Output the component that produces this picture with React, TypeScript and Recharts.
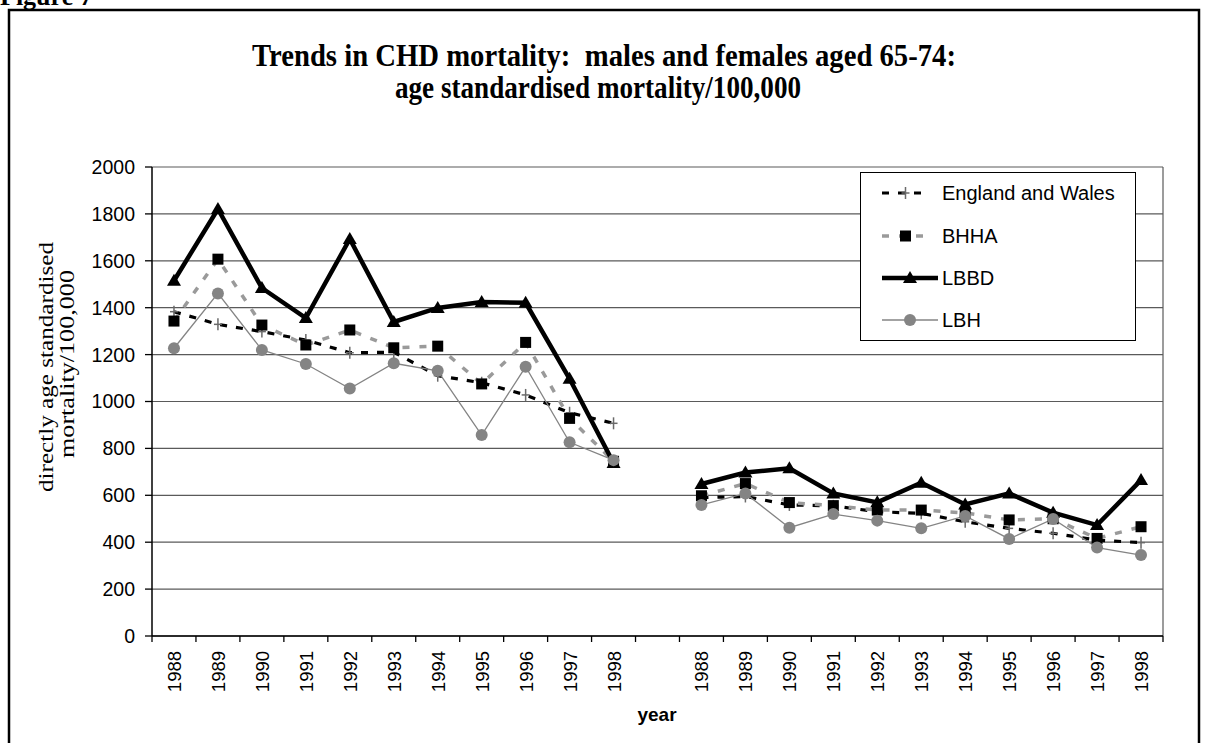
import React from 'react';
import { LineChart, Line, XAxis, YAxis, CartesianGrid, Legend } from 'recharts';

// ---- data ----
const years = ['1988', '1989', '1990', '1991', '1992', '1993', '1994', '1995', '1996', '1997', '1998'];
const yTicks = [0, 200, 400, 600, 800, 1000, 1200, 1400, 1600, 1800, 2000];

const ewPanel1 = [1383, 1329, 1298, 1262, 1208, 1210, 1110, 1080, 1028, 952, 907];
const ewPanel2 = [590, 595, 559, 555, 530, 523, 487, 459, 438, 409, 398];
const bhhaPanel1 = [1343, 1607, 1326, 1241, 1305, 1229, 1236, 1075, 1252, 928, 745];
const bhhaPanel2 = [598, 650, 569, 556, 537, 537, 525, 495, 500, 416, 466];
const lbbdPanel1 = [1515, 1821, 1484, 1356, 1693, 1339, 1399, 1424, 1421, 1097, 738];
const lbbdPanel2 = [648, 697, 715, 608, 570, 654, 561, 608, 526, 473, 665];
const lbhPanel1 = [1227, 1461, 1220, 1160, 1055, 1163, 1131, 857, 1148, 826, 750];
const lbhPanel2 = [559, 608, 462, 520, 492, 459, 512, 414, 499, 377, 345];

const titleLine1 = 'Trends in CHD mortality:  males and females aged 65-74:';
const titleLine2 = 'age standardised mortality/100,000';
const yLabel1 = 'directly age standardised';
const yLabel2 = 'mortality/100,000';
const xLabel = 'year';

const rows: any[] = [
  ...years.map((y, i) => ({ label: y, ew: ewPanel1[i], bhha: bhhaPanel1[i], lbbd: lbbdPanel1[i], lbh: lbhPanel1[i] })),
  { label: '', ew: null, bhha: null, lbbd: null, lbh: null },
  ...years.map((y, i) => ({ label: y, ew: ewPanel2[i], bhha: bhhaPanel2[i], lbbd: lbbdPanel2[i], lbh: lbhPanel2[i] })),
];

// ---- layout ----
const W = 1205;
const H = 743;
const PLOT_L = 152;
const PLOT_T = 167;
const PLOT_R = 1163;
const PLOT_B = 636;
const Y_AXIS_W = 60;
const X_AXIS_H = 60;
const BW = (PLOT_R - PLOT_L) / rows.length;

const SANS = '"Liberation Sans", Arial, sans-serif';
const SERIF = '"Liberation Serif", "Times New Roman", serif';

const BHHA_GRAY = '#9a9a9a';
const LBH_GRAY = '#848484';

// ---- markers ----
const PlusMark = ({ cx, cy }: any) => {
  if (cx == null || cy == null) return <g />;
  return (
    <g>
      <line x1={cx} x2={cx} y1={cy - 6} y2={cy + 6} stroke="#6a6a6a" strokeWidth={1.5} />
      <line x1={cx - 4} x2={cx + 4} y1={cy} y2={cy} stroke="#6a6a6a" strokeWidth={1.5} />
    </g>
  );
};
const SquareMark = ({ cx, cy }: any) => {
  if (cx == null || cy == null) return <g />;
  return <rect x={cx - 5.5} y={cy - 5.5} width={11} height={11} fill="#000" />;
};
const TriMark = ({ cx, cy }: any) => {
  if (cx == null || cy == null) return <g />;
  return <polygon points={`${cx},${cy - 7} ${cx - 7},${cy + 5} ${cx + 7},${cy + 5}`} fill="#000" />;
};
const CircleMark = ({ cx, cy }: any) => {
  if (cx == null || cy == null) return <g />;
  return <circle cx={cx} cy={cy} r={6} fill={LBH_GRAY} />;
};

const series = [
  { key: 'ew', name: 'England and Wales', stroke: '#000', width: 3.2, dash: '7 9', Mark: PlusMark },
  { key: 'bhha', name: 'BHHA', stroke: BHHA_GRAY, width: 3.5, dash: '7 10', Mark: SquareMark },
  { key: 'lbbd', name: 'LBBD', stroke: '#000', width: 4.5, dash: undefined, Mark: TriMark },
  { key: 'lbh', name: 'LBH', stroke: LBH_GRAY, width: 1.3, dash: undefined, Mark: CircleMark },
];

// ---- x tick ----
const XTick = (props: any) => {
  const { x, y, payload, index } = props;
  return (
    <g>
      <line x1={x - BW / 2} x2={x - BW / 2} y1={y} y2={y + 6} stroke="#000" strokeWidth={1.3} />
      {index === rows.length - 1 && (
        <line x1={x + BW / 2} x2={x + BW / 2} y1={y} y2={y + 6} stroke="#000" strokeWidth={1.3} />
      )}
      {payload.value !== '' && (
        <text
          transform={`translate(${x + 7},${y + 15}) rotate(-90)`}
          textAnchor="end"
          fontFamily={SANS}
          fontSize={18.5}
          fill="#000"
        >
          {payload.value}
        </text>
      )}
    </g>
  );
};

// ---- legend ----
const LegendBox = () => {
  const rowsY = [20, 63, 105, 147];
  return (
    <div
      style={{
        position: 'absolute',
        left: 0,
        top: 0,
        width: 276,
        height: 169,
        border: '1.5px solid #000',
        boxSizing: 'border-box',
        background: '#fff',
      }}
    >
      <svg width={273} height={166} style={{ position: 'absolute', left: 0, top: 0 }}>
        {series.map((s, i) => {
          const y = rowsY[i];
          const x1 = 21;
          const x2 = s.dash ? 68 : 77;
          const M = s.Mark;
          return (
            <g key={s.key}>
              <line x1={x1} x2={x2} y1={y} y2={y} stroke={s.stroke} strokeWidth={s.width} strokeDasharray={s.dash} />
              <M cx={(x1 + x2) / 2} cy={y} />
              <text x={81} y={y} dy="0.35em" fontFamily={SANS} fontSize={20} fill="#000">
                {s.name}
              </text>
            </g>
          );
        })}
      </svg>
    </div>
  );
};

export default function App() {
  return (
    <div style={{ position: 'absolute', left: 0, top: 0, width: W, height: H, overflow: 'hidden', background: '#fff' }}>
      <svg width={W} height={H} style={{ position: 'absolute', left: 0, top: 0 }}>
        <text x={0} y={5} fontFamily={SERIF} fontWeight="bold" fontSize={26} fill="#000">
          Figure 7
        </text>
        <rect x={9} y={10} width={1190} height={800} fill="none" stroke="#000" strokeWidth={2.5} />
        <text
          x={604}
          y={66}
          textAnchor="middle"
          fontFamily={SERIF}
          fontWeight="bold"
          fontSize={31}
          textLength={704}
          lengthAdjust="spacingAndGlyphs"
          style={{ whiteSpace: 'pre' }}
          fill="#000"
        >
          {titleLine1}
        </text>
        <text
          x={598}
          y={98}
          textAnchor="middle"
          fontFamily={SERIF}
          fontWeight="bold"
          fontSize={31}
          textLength={406}
          lengthAdjust="spacingAndGlyphs"
          fill="#000"
        >
          {titleLine2}
        </text>
        <text
          transform="translate(53,367) rotate(-90)"
          textAnchor="middle"
          fontFamily={SERIF}
          fontSize={20}
          textLength={250}
          lengthAdjust="spacingAndGlyphs"
          fill="#000"
        >
          {yLabel1}
        </text>
        <text
          transform="translate(74,364) rotate(-90)"
          textAnchor="middle"
          fontFamily={SERIF}
          fontSize={20}
          textLength={188}
          lengthAdjust="spacingAndGlyphs"
          fill="#000"
        >
          {yLabel2}
        </text>
        <text x={657} y={721} textAnchor="middle" fontFamily={SANS} fontWeight="bold" fontSize={19} fill="#000">
          {xLabel}
        </text>
      </svg>
      <div style={{ position: 'absolute', left: 0, top: 0 }}>
        <LineChart
          width={W}
          height={H}
          data={rows}
          margin={{ top: PLOT_T, right: W - PLOT_R, bottom: H - PLOT_B - X_AXIS_H, left: PLOT_L - Y_AXIS_W }}
        >
          <CartesianGrid
            horizontal
            vertical
            stroke="#5a5a5a"
            strokeWidth={1.2}
            verticalCoordinatesGenerator={({ offset }: any) => [offset.left + offset.width]}
          />
          <XAxis
            dataKey="label"
            height={X_AXIS_H}
            interval={0}
            padding={{ left: BW / 2, right: BW / 2 }}
            tickLine={false}
            tickSize={0}
            tickMargin={0}
            axisLine={{ stroke: '#000', strokeWidth: 1.5 }}
            tick={<XTick />}
          />
          <YAxis
            width={Y_AXIS_W}
            domain={[0, 2000]}
            ticks={yTicks}
            interval={0}
            tickSize={7}
            tickMargin={10}
            axisLine={{ stroke: '#000', strokeWidth: 1.5 }}
            tickLine={{ stroke: '#000', strokeWidth: 1.3 }}
            tick={{ fontFamily: SANS, fontSize: 19.5, fill: '#000' }}
          />
          <Legend
            content={<LegendBox />}
            wrapperStyle={{ position: 'absolute', left: 860, top: 172, width: 0, height: 0, overflow: 'visible' }}
          />
          {series.map((s) => (
            <Line
              key={s.key}
              dataKey={s.key}
              name={s.name}
              type="linear"
              stroke={s.stroke}
              strokeWidth={s.width}
              strokeDasharray={s.dash}
              dot={(p: any) => <s.Mark key={`${s.key}-${p.index}`} cx={p.cx} cy={p.cy} />}
              activeDot={false}
              connectNulls={false}
              isAnimationActive={false}
            />
          ))}
        </LineChart>
      </div>
    </div>
  );
}
